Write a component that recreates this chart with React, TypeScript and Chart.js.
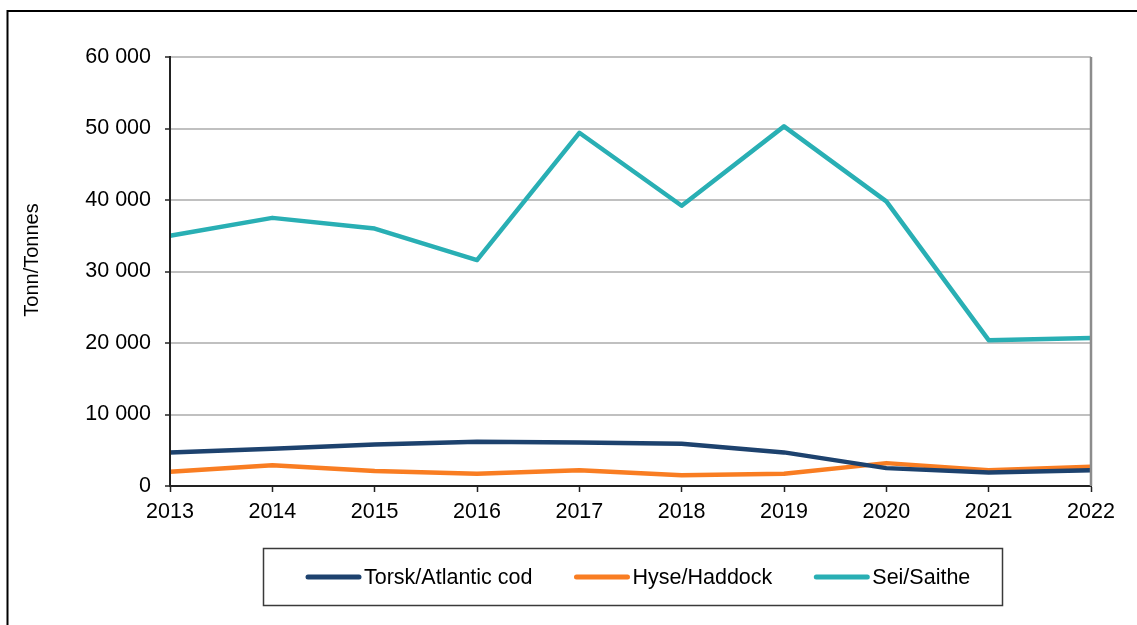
import React, { useEffect, useRef } from "react";
import { Chart, registerables } from "chart.js";

Chart.register(...registerables);

const years = ["2013", "2014", "2015", "2016", "2017", "2018", "2019", "2020", "2021", "2022"];
const torsk = [4700, 5200, 5800, 6200, 6100, 5900, 4700, 2500, 1900, 2200];
const hyse = [2000, 2900, 2100, 1700, 2200, 1500, 1700, 3200, 2200, 2700];
const sei = [35000, 37500, 36000, 31600, 49400, 39200, 50300, 39800, 20400, 20700];
const seriesNames = ["Torsk/Atlantic cod", "Hyse/Haddock", "Sei/Saithe"];
const seriesColors = ["#1d426e", "#f97d22", "#29afb4"];
const yTitle = "Tonn/Tonnes";

const FONT = "'Liberation Sans', Arial, sans-serif";

const fmt = (v: number) => String(v).replace(/\B(?=(\d{3})+(?!\d))/g, " ");

const decor = {
  id: "decor",
  beforeDraw(chart: any) {
    const ctx = chart.ctx;
    ctx.save();
    ctx.strokeStyle = "#000";
    ctx.lineWidth = 2;
    ctx.beginPath();
    ctx.moveTo(7.5, 700);
    ctx.lineTo(7.5, 11);
    ctx.lineTo(1200, 11);
    ctx.stroke();
    ctx.restore();
  },
  afterDraw(chart: any) {
    const ctx = chart.ctx;
    const area = chart.chartArea;
    ctx.save();
    // right frame of plot
    ctx.strokeStyle = "#8c8c8c";
    ctx.lineWidth = 2.5;
    ctx.beginPath();
    ctx.moveTo(area.right, area.top);
    ctx.lineTo(area.right, area.bottom);
    ctx.stroke();
    // y title
    ctx.fillStyle = "#000";
    ctx.font = `20px ${FONT}`;
    ctx.textAlign = "center";
    ctx.textBaseline = "middle";
    ctx.translate(32, 260);
    ctx.rotate(-Math.PI / 2);
    ctx.fillText(yTitle, 0, 0);
    ctx.restore();

    // legend
    ctx.save();
    ctx.strokeStyle = "#3a3a3a";
    ctx.lineWidth = 1.5;
    ctx.strokeRect(263.5, 548.5, 739, 57);
    ctx.font = `21.5px ${FONT}`;
    ctx.textBaseline = "middle";
    ctx.textAlign = "left";
    let x = 306;
    const y = 577;
    chart.data.datasets.forEach((ds: any) => {
      ctx.strokeStyle = ds.borderColor;
      ctx.lineWidth = 5;
      ctx.lineCap = "round";
      ctx.beginPath();
      ctx.moveTo(x + 2, y);
      ctx.lineTo(x + 53, y);
      ctx.stroke();
      ctx.fillStyle = "#000";
      ctx.fillText(ds.label, x + 58, y + 1);
      x += 58 + ctx.measureText(ds.label).width + 42;
    });
    ctx.restore();
  },
};

export default function App() {
  const ref = useRef<HTMLCanvasElement>(null);
  useEffect(() => {
    if (!ref.current) return;
    Chart.defaults.font.family = FONT;
    const chart = new Chart(ref.current, {
      type: "line",
      data: {
        labels: years,
        datasets: [torsk, hyse, sei].map((d, i) => ({
          label: seriesNames[i],
          data: d,
          borderColor: seriesColors[i],
          backgroundColor: seriesColors[i],
          borderWidth: 4.5,
          pointRadius: 0,
          tension: 0,
          borderJoinStyle: "round" as const,
        })),
      },
      options: {
        animation: false,
        responsive: false,
        devicePixelRatio: 1,
        layout: { padding: { left: 0, right: 46, top: 57, bottom: 99 } },
        plugins: { legend: { display: false }, tooltip: { enabled: false } },
        scales: {
          x: {
            offset: false,
            grid: {
              display: true,
              drawOnChartArea: false,
              drawTicks: true,
              tickLength: 6,
              tickColor: "#222",
              tickWidth: 1.5,
            },
            border: { color: "#222", width: 2, z: 1 },
            ticks: { color: "#000", font: { size: 21.5 }, padding: 7, maxRotation: 0, autoSkip: false },
            afterFit: (s: any) => {
              s.height = 40;
            },
          },
          y: {
            min: 0,
            max: 60000,
            grid: {
              color: "#c0c0c0",
              lineWidth: 2,
              drawTicks: true,
              tickLength: 5,
              tickColor: "#222",
              tickWidth: 1.5,
            },
            border: { color: "#222", width: 2, z: 1 },
            ticks: {
              stepSize: 10000,
              color: "#000",
              font: { size: 21.5 },
              padding: 14,
              callback: (v: any) => fmt(Number(v)),
            },
            afterFit: (s: any) => {
              s.width = 170;
            },
          },
        },
      },
      plugins: [decor],
    });
    return () => chart.destroy();
  }, []);
  return (
    <div style={{ position: "absolute", left: 0, top: 0, width: 1137, height: 625, background: "#fff" }}>
      <canvas ref={ref} width={1137} height={625} style={{ display: "block" }} />
    </div>
  );
}
